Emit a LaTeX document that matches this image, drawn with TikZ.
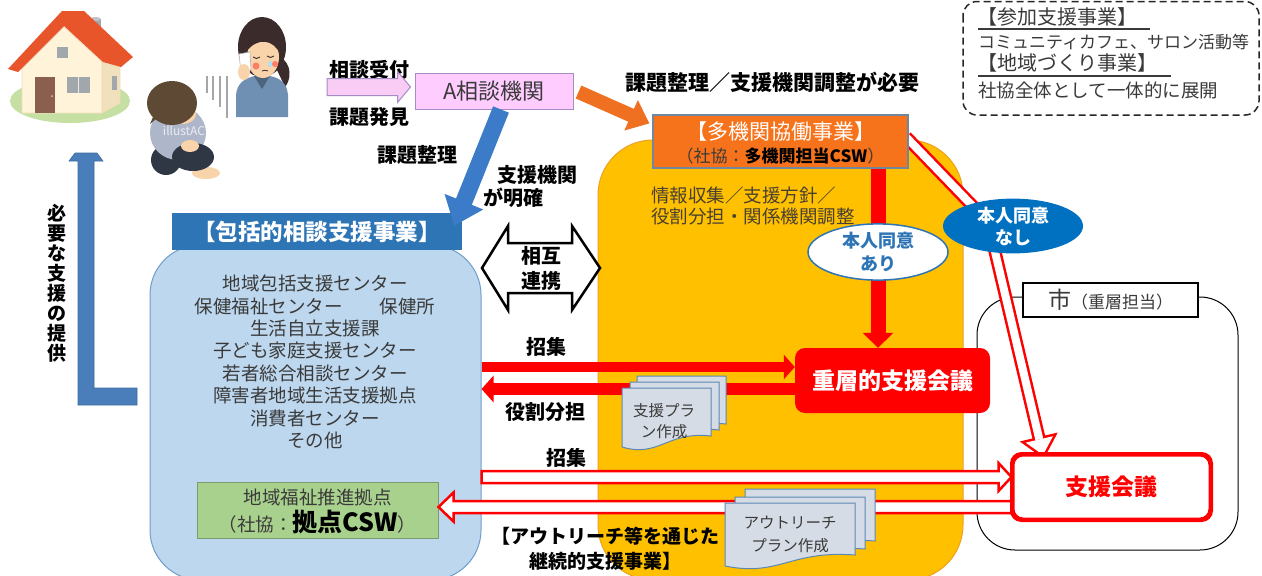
\documentclass[tikz,border=0pt]{standalone}
\usepackage{fontspec}
\setmainfont{Noto Sans CJK JP}
\usetikzlibrary{arrows.meta,calc,shapes.geometric}

\newcommand\jfs[2]{\fontsize{#1}{#2}\selectfont}

% palette
\definecolor{txt}{HTML}{3A3A3A}
\definecolor{infotxt}{HTML}{4A4030}
\definecolor{regblue}{HTML}{BDD7EE}
\definecolor{regblueline}{HTML}{6F9CCB}
\definecolor{hdrblue}{HTML}{2E75B6}
\definecolor{arrblue}{HTML}{3B7BC8}
\definecolor{lblue}{HTML}{4A7EBB}
\definecolor{yel}{HTML}{FFC000}
\definecolor{yelline}{HTML}{EFA020}
\definecolor{orng}{HTML}{F6731B}
\definecolor{orngarr}{HTML}{F07022}
\definecolor{orngline}{HTML}{70879E}
\definecolor{redc}{HTML}{FF0000}
\definecolor{pinkfill}{HTML}{FFCCFF}
\definecolor{pinkline}{HTML}{A58CC6}
\definecolor{arrpink}{HTML}{F8CCF5}
\definecolor{grn}{HTML}{A9D18E}
\definecolor{grnline}{HTML}{7E9A6B}
\definecolor{docfill}{HTML}{D6DCE5}
\definecolor{docline}{HTML}{5B87B6}
\definecolor{ellblue}{HTML}{0070C0}
\definecolor{elltext}{HTML}{2E75B6}
\definecolor{ground}{HTML}{C6E0A4}
\definecolor{roof}{HTML}{E8552B}
\definecolor{wall}{HTML}{FFF3D9}
\definecolor{wallside}{HTML}{F1E0BC}
\definecolor{wingray}{HTML}{A2A7AC}
\definecolor{door}{HTML}{8B5F4E}
\definecolor{skin}{HTML}{F9D3AA}
\definecolor{hairdark}{HTML}{3B2B2B}
\definecolor{hairbrown}{HTML}{5E4A34}
\definecolor{shirtblue}{HTML}{6F8FB3}
\definecolor{shirtgray}{HTML}{AEB6C9}
\definecolor{pants}{HTML}{2F3644}

% hollow arrow: style, start, tip, half shaft, half head, head length
\newcommand\hollowarrow[6]{%
  \coordinate (ha-b) at ($#3!#6!#2$);
  \filldraw[#1] ($#2!#4!90:#3$) -- ($(ha-b)!#4!90:#3$) -- ($(ha-b)!#5!90:#3$) -- #3
     -- ($(ha-b)!#5!-90:#3$) -- ($(ha-b)!#4!-90:#3$) -- ($#2!#4!-90:#3$) -- cycle;}

% one sheet of a document stack: x, y, width, height of right side
\newcommand\docshape[4]{%
  \pgfmathsetmacro\dxr{#1+#3}%
  \pgfmathsetmacro\dyb{#2+#4}%
  \pgfmathsetmacro\dcxa{#1+0.5*#3}%
  \pgfmathsetmacro\dcxb{#1+0.42*#3}%
  \filldraw[docbox] (#1,#2) -- (\dxr,#2) -- (\dxr,\dyb)
    .. controls (\dcxa,\dyb-5) and (\dcxb,\dyb+22) .. (#1,\dyb+11) -- cycle;}

\begin{document}
\begin{tikzpicture}[x=1pt,y=-1pt,
  lbl/.style={font=\bfseries\jfs{20}{20}, text=black, inner sep=0pt},
  body/.style={font=\jfs{18.5}{22.4}, text=txt, inner sep=0pt},
  docbox/.style={fill=docfill, draw=docline, line width=1pt},
  region/.style={inner sep=0pt, line width=1pt},
  hollow/.style={fill=white, draw=redc, line width=2.5pt, line join=miter},
]
\useasboundingbox (0,0) rectangle (1262,576);
\fill[white] (0,0) rectangle (1262,576);

% ---------- house ----------
\fill[ground] (70,101) ellipse [x radius=60, y radius=22];
\filldraw[fill=wall, draw=wall!80!brown, line width=0.6pt] (22,69) -- (64,27) -- (102,62) -- (102,113) -- (22,113) -- cycle;
\filldraw[fill=wallside, draw=wall!80!brown, line width=0.6pt] (102,62) -- (120,67) -- (120,103) -- (102,113) -- cycle;
\fill[wingray] (90,19) rectangle (101,42);
\fill[wingray!70!white] (95.5,19) ellipse [x radius=5.5, y radius=2];
\fill[roof] (8,69) -- (62,11) -- (84,11) -- (133,57) -- (121,67) -- (103,62) -- (64,26) -- (18,72) -- cycle;
\fill[wingray] (57,47) rectangle (68,58);
\fill[wingray] (67,77) rectangle (90,93);
\draw[white!85!gray, line width=0.8pt] (78.5,77) -- (78.5,93);
\fill[door] (35,77) rectangle (55,113);
\fill[wall!60!brown] (52,96) circle (1);
\fill[wingray] (112,76) rectangle (117,90);

% ---------- crying woman ----------
\fill[hairdark] (262,47) ellipse [x radius=24, y radius=30];
\fill[hairdark] (279,56) .. controls (293,64) and (291,80) .. (285,87) -- (277,70) -- cycle;
\fill[shirtblue] (236,117) -- (236,95) .. controls (237,83) and (245,78) .. (255,76) -- (270,76) .. controls (280,78) and (287,83) .. (288,95) -- (288,117) -- cycle;
\fill[skin] (256,68) rectangle (268,80);
\fill[shirtblue!70!black] (254,76) -- (262,89) -- (270,76) -- cycle;
\fill[skin] (263,57) ellipse [x radius=16, y radius=21];
\fill[hairdark] (246,52) .. controls (246,27) and (280,24) .. (280,54) .. controls (274,40) and (258,36) .. (246,52) -- cycle;
\fill[red!40!skin] (256,66) circle (3.5);
\fill[red!40!skin] (275,64) circle (3);
\draw[hairdark, line width=0.9pt] (253,57) .. controls (255,59) and (258,59) .. (260,57);
\draw[hairdark, line width=0.9pt] (267,56) .. controls (269,58) and (272,58) .. (274,56);
\draw[hairdark, line width=0.8pt] (262,71) .. controls (264,70) and (266,70) .. (268,71);
\fill[cyan!35!white] (270,64) ellipse [x radius=2, y radius=3.2];
\filldraw[fill=white, draw=gray!60, line width=0.6pt] (239,54) -- (250,52) -- (251,70) -- (241,72) -- cycle;
\fill[skin] (244,72) ellipse [x radius=6, y radius=8];

% sad lines
\foreach \lx/\ly in {207/93, 213/100, 220/107, 227/118}
  \draw[gray!70, line width=1.5pt] (\lx,76) -- (\lx,\ly);

% ---------- sitting child ----------
\fill[pants] (166,160) ellipse [x radius=15, y radius=15];
\fill[shirtgray] (178,133) ellipse [x radius=28, y radius=27];
\fill[skin] (206,173) ellipse [x radius=14, y radius=6];
\fill[pants] (193,157) ellipse [x radius=21, y radius=14];
\fill[skin] (190,146) ellipse [x radius=9, y radius=6];
\fill[skin] (183,114) ellipse [x radius=13, y radius=10];
\fill[hairbrown] (172,103) ellipse [x radius=25, y radius=22];
\fill[hairbrown] (156,110) -- (150,124) -- (162,114) -- (166,126) -- (170,112) -- cycle;
\node[text=white, opacity=0.75, font=\jfs{12}{12}, inner sep=0pt] (wm) at (184,131) {illustAC};

% ---------- blue L arrow ----------
\filldraw[fill=lblue, draw=lblue!85!black, line width=0.6pt]
  (78,405) -- (78,161) -- (69,161) -- (75,153) -- (97,153) -- (103,161) -- (94,161)
  -- (94,388) -- (137,388) -- (137,405) -- cycle;
\node[font=\bfseries\jfs{19}{20}, align=center, inner sep=0pt] (vtext) at (57,283)
  {必\\要\\な\\支\\援\\の\\提\\供};

% ---------- regions ----------
\node[region, draw=regblueline, fill=regblue, rounded corners=50pt,
  minimum width=331pt, minimum height=335pt] (blue) at (315.5,412.5) {};
\node[region, draw=yelline, fill=yel, rounded corners=55pt,
  minimum width=365pt, minimum height=440pt] (yel) at (780.5,360) {};
\node[region, draw=black, rounded corners=38pt,
  minimum width=261pt, minimum height=253pt] (city) at (1107.5,423.5) {};

% ---------- top labels ----------
\node[lbl] (t-uketsuke) at (369,70) {相談受付};
\node[lbl] (t-hakken) at (369,117) {課題発見};
\node[lbl] (t-seiri) at (417,155) {課題整理};
\node[lbl, anchor=west] (t-shien1) at (497,175) {支援機関};
\node[lbl, anchor=west] (t-shien2) at (483,198) {が明確};
\node[lbl, font=\bfseries\jfs{21}{21}, anchor=west] (t-need) at (625,82) {課題整理／支援機関調整が必要};

% ---------- A consultation body ----------
\node[draw=pinkline, fill=pinkfill, line width=1pt, minimum width=158pt, minimum height=36pt,
  inner sep=0pt, font=\jfs{22}{22}, text=txt] (abox) at (494,91) {A相談機関};
\coordinate (pk-s) at (327,87);
\coordinate (pk-e) at ($(abox.west)+(-4,-4)$);
\hollowarrow{fill=arrpink, draw=pinkline, line width=1pt}{(pk-s)}{(pk-e)}{8.5pt}{15.5pt}{13pt}

% ---------- multi-agency box ----------
\coordinate (d0) at (906,137);
\coordinate (d1) at (988,222);
\coordinate (d2) at (1043,455);
\coordinate (db) at ($(d2)!16pt!(d1)$);
\draw[redc, line width=13pt, line join=miter] (d0) -- (d1) -- (db);
\filldraw[redc, line width=5pt, line join=miter] ($(db)!14pt!90:(d2)$) -- (d2) -- ($(db)!14pt!-90:(d2)$) -- cycle;
\draw[white, line width=8pt, line join=miter] (d0) -- (d1) -- (db);
\fill[white] ($(db)!14pt!90:(d2)$) -- (d2) -- ($(db)!14pt!-90:(d2)$) -- cycle;

\node[draw=orngline, fill=orng, line width=1.2pt, minimum width=255pt, minimum height=53pt,
  inner sep=0pt] (tak) at (780.5,141.5) {};
\node[text=white, font=\jfs{21}{21}, inner sep=0pt] (tak-t1) at ($(tak.center)+(0,-10)$) {【多機関協働事業】};
\node[text=txt, font=\jfs{17}{17}, inner sep=0pt] (tak-t2) at ($(tak.center)+(0,15)$) {（社協：\textbf{\color{black}多機関担当CSW}）};

\node[text=infotxt, font=\jfs{18.5}{18.5}, inner sep=0pt, anchor=west] (info1) at (651,195) {情報収集／支援方針／};
\node[text=infotxt, font=\jfs{18.5}{18.5}, inner sep=0pt, anchor=west] (info2) at (651,217) {役割分担・関係機関調整};

% ---------- comprehensive consultation ----------
\node[fill=hdrblue, minimum width=290pt, minimum height=37pt, inner sep=0pt,
  text=white, font=\bfseries\jfs{22.5}{22.5}] (hdr) at (317,231.5) {【包括的相談支援事業】};
\node[body, align=center] (list) at (315,362) {地域包括支援センター\\保健福祉センター　　保健所\\生活自立支援課\\子ども家庭支援センター\\若者総合相談センター\\障害者地域生活支援拠点\\消費者センター\\その他};

\node[draw=grnline, fill=grn, line width=1pt, minimum width=241pt, minimum height=56pt,
  inner sep=0pt] (green) at (317.5,510) {};
\node[text=txt, font=\jfs{18.5}{18.5}, inner sep=0pt] (green-t1) at ($(green.center)+(0,-13)$) {地域福祉推進拠点};
\node[text=txt, font=\jfs{18.5}{18.5}, inner sep=0pt] (green-t2) at ($(green.center)+(0,12)$) {（社協：{\bfseries\color{black}\jfs{25}{25}拠点CSW}）};

% arrows out of the A body
\draw[arrblue, line width=17pt, -{Triangle[width=40pt,length=26pt]}]
  ($(abox.south)+(7,0)$) -- ($(hdr.north east)+(-8,13)$);
\draw[orngarr, line width=14pt, -{Triangle[width=32pt,length=20pt]}]
  ($(abox.east)+(5,1)$) -- ($(tak.north west)+(-3,9)$);

% ---------- mutual cooperation ----------
\filldraw[fill=white, draw=black, line width=2.5pt, line join=miter]
  (482,268) -- (508,226) -- (508,243) -- (572,243) -- (572,226) -- (600,268)
  -- (572,310) -- (572,293) -- (508,293) -- (508,310) -- cycle;
\node[lbl, align=center, font=\bfseries\jfs{20}{25}] (t-sogo) at (541,268) {相互\\連携};

% ---------- layered support meeting ----------
\node[fill=redc, rounded corners=10pt, minimum width=195pt, minimum height=65pt, inner sep=0pt,
  text=white, font=\bfseries\jfs{23}{23}] (juso) at (892.5,380.5) {重層的支援会議};

\draw[redc, line width=15pt, -{Triangle[width=30pt,length=15pt]}] (tak.south -| 878,0) -- (juso.north -| 878,0);
\draw[redc, line width=10pt, -{Triangle[width=24pt,length=11pt]}] (blue.east |- 0,367) -- (juso.west |- 0,367);
\draw[redc, line width=12pt, -{Triangle[width=26pt,length=12pt]}] (juso.west |- 0,389) -- (blue.east |- 0,389);

\node[lbl] (t-shoshu1) at (546,347) {招集};
\node[lbl] (t-yakuwari) at (545,412) {役割分担};
\node[lbl] (t-shoshu2) at (566,458) {招集};

% plan documents
\docshape{637}{376}{89}{48}
\docshape{630}{382}{89}{48}
\docshape{622}{388}{89}{48}
\node[text=txt, font=\jfs{15.5}{21}, align=center, inner sep=0pt] (plan1) at (664,421) {支援プラ\\ン作成};

% ---------- city ----------
\node[draw=black, fill=white, line width=1.5pt, minimum width=175pt, minimum height=34pt,
  inner sep=0pt, text=txt] (citylbl) at (1110.5,300) {{\jfs{23}{23}市}\jfs{17}{17}（重層担当）};

\node[draw=redc, fill=white, line width=3pt, rounded corners=10pt, minimum width=197pt,
  minimum height=64pt, inner sep=0pt, text=redc, font=\bfseries\jfs{23}{23}] (shien) at (1111.5,487) {支援会議};

% outreach hollow arrows
\coordinate (h1s) at (blue.east |- 0,477);
\coordinate (h1e) at (shien.west |- 0,477);
\hollowarrow{hollow}{(h1s)}{(h1e)}{6pt}{14pt}{13pt}
\coordinate (h2s) at (shien.west |- 0,507);
\coordinate (h2e) at (green.east |- 0,507);
\hollowarrow{hollow}{(h2s)}{(h2e)}{6pt}{14.5pt}{15pt}
\draw[redc, line width=3pt, rounded corners=10pt] (shien.north west) rectangle (shien.south east);

\docshape{745}{489}{130}{52}
\docshape{735}{497}{130}{52}
\docshape{725}{503}{130}{52}
\node[text=txt, font=\jfs{15.5}{23}, align=center, inner sep=0pt] (plan2) at (790,534) {アウトリーチ\\プラン作成};

\node[lbl, align=center, font=\bfseries\jfs{19}{25}] (t-outreach) at (605,549) {【アウトリーチ等を通じた\\継続的支援事業】};

% consent ellipses
\node[ellipse, draw=elltext, fill=white, line width=1.5pt, minimum width=140pt, minimum height=50pt,
  inner sep=0pt, align=center, text=elltext, font=\bfseries\jfs{18}{23}] (ari) at (878,252) {本人同意\\あり};
\node[ellipse, fill=ellblue, minimum width=140pt, minimum height=46pt,
  inner sep=0pt, align=center, text=white, font=\bfseries\jfs{18}{22}] (nashi) at (1013,226) {本人同意\\なし};

% ---------- participation / community box ----------
\draw[black!85, line width=1.5pt, dash pattern=on 7pt off 4pt, rounded corners=14pt] (963,1.5) rectangle (1259,115);
\node[text=txt, font=\jfs{20}{20}, inner sep=0pt, anchor=west] (sanka) at (977,17) {【参加支援事業】};
\draw[txt, line width=1.2pt] (978,29) -- (1150,29);
\node[text=txt, font=\jfs{17}{17}, inner sep=0pt, anchor=west] (sanka-d) at (978,42) {コミュニティカフェ、サロン活動等};
\node[text=txt, font=\jfs{20}{20}, inner sep=0pt, anchor=west] (chiiki) at (977,63) {【地域づくり事業】};
\draw[txt, line width=1.2pt] (978,76) -- (1171,76);
\node[text=txt, font=\jfs{18.5}{18.5}, inner sep=0pt, anchor=west] (chiiki-d) at (978,90) {社協全体として一体的に展開};

\end{tikzpicture}
\end{document}
